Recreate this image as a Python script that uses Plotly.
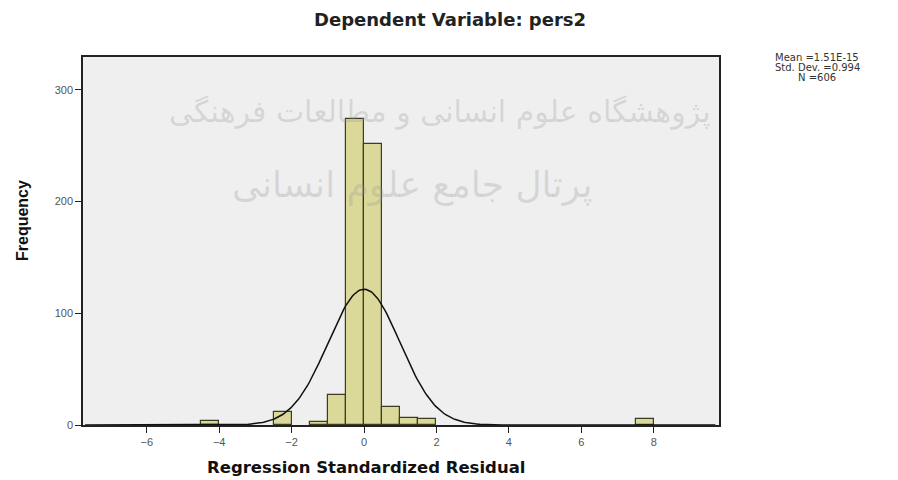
import numpy as np
import plotly.graph_objects as go

# Histogram bins (centres, bin width 0.5) and frequencies
bin_centers = [-4.25, -2.25, -1.25, -0.75, -0.25, 0.25, 0.75, 1.25, 1.75, 7.75]
frequencies = [4, 12, 3, 27, 274, 252, 16, 6, 5, 5]
bin_width = 0.5

# Summary statistics shown in the chart
stat_mean = 1.51e-15
stat_sd = 0.994
stat_n = 606
stat_labels = ["Mean =1.51E-15", "Std. Dev. =0.994", "N =606"]

x_ticks = [-6, -4, -2, 0, 2, 4, 6, 8]
y_ticks = [0, 100, 200, 300]

# Normal curve fitted from the stated statistics
xs = np.linspace(-7.7, 9.7, 400)
ys = stat_n * bin_width / (stat_sd * np.sqrt(2 * np.pi)) * np.exp(-0.5 * ((xs - stat_mean) / stat_sd) ** 2)

L, R, T, B = 83, 719, 57, 425
PW, PH = R - L, B - T

def px(x):
    return (x - L) / PW

def py(y):
    return (B - y) / PH

fig = go.Figure()
fig.add_trace(go.Bar(
    x=bin_centers, y=frequencies, width=bin_width,
    marker=dict(color="#dad99a", line=dict(color="#3c3c22", width=1.2)),
    hoverinfo="x+y", showlegend=False,
))
fig.add_trace(go.Scatter(
    x=xs, y=ys, mode="lines", line=dict(color="#111111", width=1.5),
    showlegend=False, hoverinfo="skip",
))

# faint watermark
fig.add_annotation(text="پژوهشگاه علوم انسانی و مطالعات فرهنگی", xref="paper", yref="paper",
                   x=px(440), y=py(92), showarrow=False,
                   font=dict(family="DejaVu Sans", size=30, color="rgba(150,150,150,0.28)"))
fig.add_annotation(text="پرتال جامع علوم انسانی", xref="paper", yref="paper",
                   x=px(412), y=py(185), showarrow=False,
                   font=dict(family="DejaVu Sans", size=36, color="rgba(150,150,150,0.28)"))

fig.add_annotation(text="<b>Dependent Variable: pers2</b>", xref="paper", yref="paper",
                   x=px(450), y=py(20), showarrow=False,
                   xanchor="center", yanchor="middle",
                   font=dict(family="DejaVu Sans", size=18, color="#222222"))
for i, lab in enumerate(stat_labels):
    fig.add_annotation(text=lab, xref="paper", yref="paper",
                       x=px(817), y=py(57 + 10 * i), showarrow=False,
                       xanchor="center", yanchor="middle",
                       font=dict(family="DejaVu Sans", size=10, color="#333333"))
fig.add_annotation(text="<b>Regression Standardized Residual</b>", xref="paper", yref="paper",
                   x=px(366), y=py(467), showarrow=False,
                   xanchor="center", yanchor="middle",
                   font=dict(family="DejaVu Sans", size=16.5, color="#111111"))
fig.add_annotation(text="<b>Frequency</b>", xref="paper", yref="paper",
                   x=px(22), y=py(220), showarrow=False,
                   textangle=-90, xanchor="center", yanchor="middle",
                   font=dict(family="Liberation Sans", size=16, color="#111111"))

fig.update_layout(
    width=898, height=480,
    margin=dict(l=L, r=898 - R, t=T, b=480 - B),
    paper_bgcolor="#ffffff", plot_bgcolor="#efefef",
    bargap=0,
    xaxis=dict(range=[-7.76, 9.8], tickvals=x_ticks, ticks="outside", ticklen=6,
               tickcolor="#222222", showgrid=False, zeroline=False,
               showline=True, linecolor="#222222", linewidth=1.5, mirror=True,
               tickfont=dict(family="Liberation Sans", size=11, color="#555555")),
    yaxis=dict(range=[0, 329.5], tickvals=y_ticks, ticks="outside", ticklen=6,
               tickcolor="#222222", showgrid=False, zeroline=False,
               showline=True, linecolor="#222222", linewidth=1.5, mirror=True,
               tickfont=dict(family="Liberation Sans", size=11, color="#555555")),
)

fig.write_html("out.html", config={"displayModeBar": False},
               post_script="document.body.style.margin='0';")
